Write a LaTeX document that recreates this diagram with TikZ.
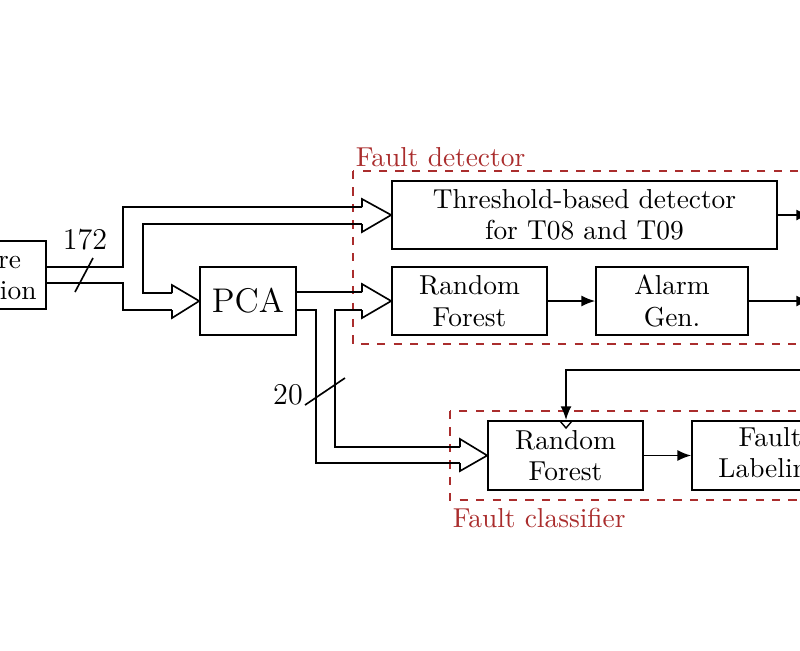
\documentclass[tikz,border=0pt]{standalone}
\usetikzlibrary{arrows.meta}
\definecolor{dred}{RGB}{170,45,45}
\begin{document}
\begin{tikzpicture}[x=0.365pt,y=-0.365pt,line width=0.6pt,
  blk/.style={draw,rectangle,align=center,inner sep=0pt,font=\fontsize{10}{11.5}\selectfont},
  grp/.style={draw=dred,dashed,line width=0.6pt},
  glab/.style={text=dred,anchor=west,inner sep=0pt,font=\fontsize{10}{12}\selectfont},
  arr/.style={-{Latex[length=5pt,width=4pt]}},
  lab/.style={inner sep=0pt,font=\fontsize{11}{12}\selectfont}]
\useasboundingbox (0,0) rectangle (800,650);
\clip (0,0) rectangle (800,650);
% groups
\draw[grp] (353,171) rectangle (830,344);
\node[glab] (fdl) at (355,157) {Fault detector};
\draw[grp] (450,411) rectangle (830,500);
\node[glab] (fcl) at (452,518) {Fault classifier};
% blocks
\node[blk,minimum width=140*0.365pt,minimum height=68*0.365pt] (fe) at (-24,275) {Feature\\extraction};
\node[blk,minimum width=96*0.365pt,minimum height=68*0.365pt,font=\fontsize{12.5}{14}\selectfont] (pca) at (248,301) {PCA};
\node[blk,minimum width=385*0.365pt,minimum height=68*0.365pt] (thr) at (584.5,215) {Threshold-based detector\\for T08 and T09};
\node[blk,minimum width=155*0.365pt,minimum height=68*0.365pt] (rf1) at (469.5,301) {Random\\Forest};
\node[blk,minimum width=152*0.365pt,minimum height=68*0.365pt] (ag) at (672,301) {Alarm\\Gen.};
\node[blk,minimum width=155*0.365pt,minimum height=69*0.365pt] (rf2) at (565.5,455.5) {Random\\Forest};
\node[blk,minimum width=156*0.365pt,minimum height=69*0.365pt] (fl) at (770,455.5) {Fault\\Labeling};
% coordinates
\coordinate (a1) at (362,207); \coordinate (a2) at (362,224);
\coordinate (p1) at (172,293); \coordinate (p2) at (172,310);
\coordinate (r1) at (362,292); \coordinate (r2) at (362,310);
\coordinate (c1) at (460,447); \coordinate (c2) at (460,463);
% hollow arrow heads
\draw (a1) -- ++(0,-8) -- (thr.west) -- (362,232) -- (a2);
\draw (p1) -- ++(0,-8) -- (pca.west) -- (172,318) -- (p2);
\draw (r1) -- ++(0,-8) -- (rf1.west) -- (362,318) -- (r2);
\draw (c1) -- ++(0,-8) -- (rf2.west) -- (460,471) -- (c2);
% feature extraction outputs
\draw (fe.east |- 0,267) -- (123,267) -- (123,207) -- (a1);
\draw (fe.east |- 0,283) -- (123,283) -- (123,310) -- (p2);
\draw (a2) -- (143,224) -- (143,293) -- (p1);
\draw (75,292) -- (93,258);
\node[lab] (n172) at (85,240) {172};
% PCA outputs
\draw (pca.east |- 0,292) -- (r1);
\draw (pca.east |- 0,310) -- (316,310) -- (316,463) -- (c2);
\draw (r2) -- (335,310) -- (335,447) -- (c1);
\draw (305,405) -- (345,378);
\node[lab] (n20) at (288,395) {20};
% flow
\draw[arr] (rf1) -- (ag);
\draw[arr] (rf2) -- (fl);
\draw[arr] (thr.east) -- (810,215);
\draw[arr] (ag.east) -- (810,301);
\coordinate (fb) at (830,370);
\draw[arr] (fb) -- (566,370) -- (566,420);
\draw[line width=0.5pt] (560,421) -- (566,428) -- (572,421);
\end{tikzpicture}
\end{document}
